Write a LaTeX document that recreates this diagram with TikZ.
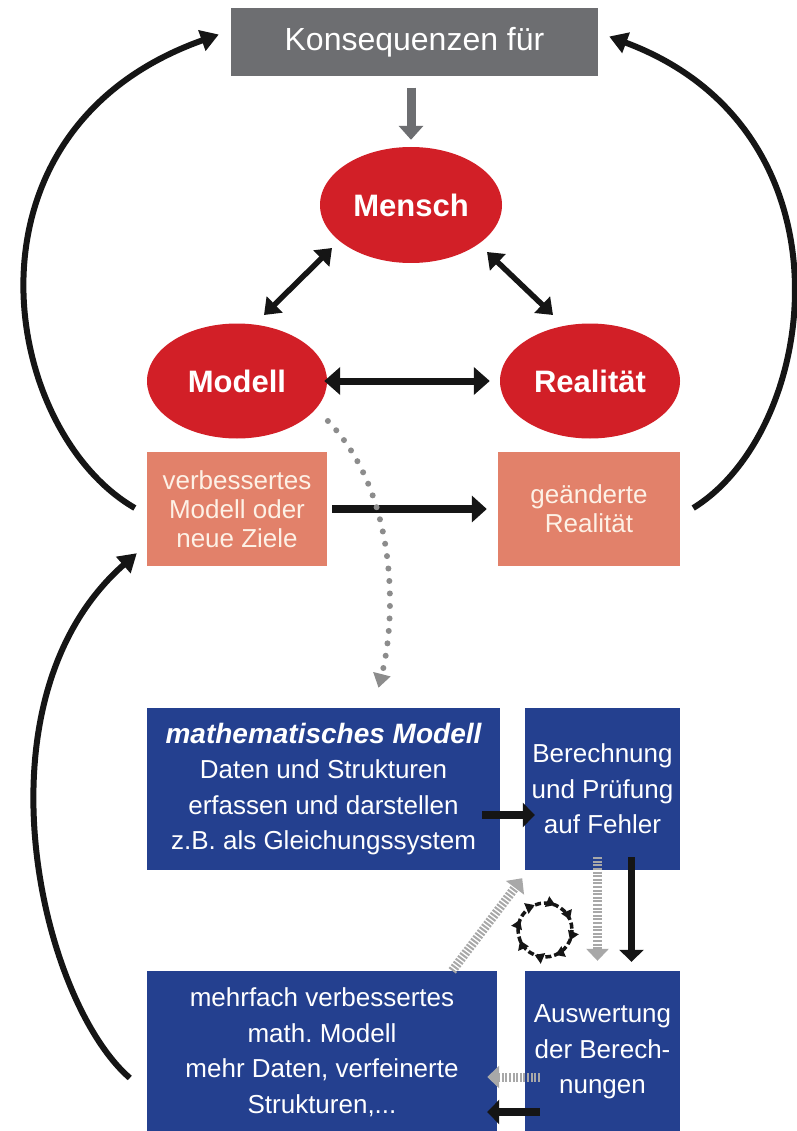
\documentclass[tikz,border=0pt]{standalone}
\usepackage{fontspec}
\setmainfont{Liberation Sans}
\usetikzlibrary{arrows.meta,shapes.geometric,calc,decorations.markings}
\definecolor{kgray}{HTML}{6D6E71}
\definecolor{kred}{HTML}{D21F27}
\definecolor{ksalmon}{HTML}{E2816A}
\definecolor{kblue}{HTML}{24408F}
\definecolor{khatch}{HTML}{A8A8A8}
\definecolor{kdot}{HTML}{8C8C8C}
\definecolor{kblack}{HTML}{151515}
\definecolor{kcream}{HTML}{FDF1E6}
\frenchspacing
\begin{document}
\begin{tikzpicture}[x=1pt,y=-1pt,
  graybox/.style={rectangle, fill=kgray, text=white, minimum width=367pt, minimum height=68pt, inner sep=0pt, font=\fontsize{32}{32}\selectfont},
  ell/.style={ellipse, fill=kred, text=white, minimum width=180pt, minimum height=115pt, inner sep=0pt, font=\fontsize{31}{31}\selectfont\bfseries},
  sbox/.style={rectangle, fill=ksalmon, text=kcream, minimum width=180pt, minimum height=114pt, inner sep=0pt, align=center, font=\fontsize{26}{29}\selectfont},
  bbox/.style={rectangle, fill=kblue, text=white, minimum height=162pt, inner sep=0pt, align=center, font=\fontsize{26}{35.5}\selectfont},
  garrow/.style={draw=kgray, line width=9pt, -{Triangle[length=14pt,width=24pt]}},
  dbl/.style={draw=kblack, line width=6pt, {Triangle[length=15pt,width=22pt]}-{Triangle[length=15pt,width=22pt]}},
  blk/.style={draw=kblack, line width=8pt, -{Triangle[length=15pt,width=26pt]}},
  sblk/.style={draw=kblack, line width=7.5pt, -{Triangle[length=12pt,width=24pt]}},
  arc/.style={draw=kblack, line width=6pt, -{Triangle[length=18pt,width=21pt]}},
  dots/.style={draw=kdot, line width=6pt, line cap=round, dash pattern=on 0pt off 12.5pt, -{Triangle[length=14pt,width=17pt]}},
  hatch/.style={draw=khatch, line width=9pt, dash pattern=on 2pt off 1.6pt, -{Triangle[length=12pt,width=22pt,fill=khatch]}},
  cyc/.style={draw=kblack, line width=3.5pt, dash pattern=on 6pt off 3pt,
    postaction={decorate, decoration={markings, mark=between positions 0.0625 and 1 step 0.125 with {\arrow{Triangle[length=9pt,width=11pt]}}}}}
]
\fill[white] (0,0) rectangle (796,1131);
\useasboundingbox (0,0) rectangle (796,1131);

% nodes
\node[graybox] (kons) at (414.5,42.5) {Konsequenzen für};
\node[ell, minimum width=182pt, minimum height=116pt] (mensch) at (411,205) {Mensch};
\node[ell] (modell) at (237,381) {Modell};
\node[ell] (real) at (590,381) {Realität};
\node[sbox] (lbox) at (237,509) {verbessertes\\Modell oder\\neue Ziele};
\node[sbox, minimum width=182pt] (rbox) at (589,509) {geänderte\\Realität};
\node[bbox, minimum width=353pt] (b1) at (323.5,789) {{\fontsize{28}{35.5}\selectfont\bfseries\itshape mathematisches Modell}\\Daten und Strukturen\\erfassen und darstellen\\z.B. als Gleichungssystem};
\node[bbox, minimum width=155pt] (b2) at (602.5,789) {Berechnung\\und Prüfung\\auf Fehler};
\node[bbox, minimum width=350pt] (b3) at (322,1052) {mehrfach verbessertes\\math. Modell\\mehr Daten, verfeinerte\\Strukturen,...};
\node[bbox, minimum width=155pt] (b4) at (602.5,1052) {Auswertung\\der Berech-\\nungen};

% top connectors
\draw[garrow, shorten <=11pt, shorten >=7pt] (kons.south -| mensch.north) -- (mensch.north);
\draw[dbl, line width=5.5pt] ($(mensch.center)+(-79,43)$) -- ($(modell.center)+(27,-66)$);
\draw[dbl, line width=5.5pt] ($(mensch.center)+(76,47)$) -- ($(real.center)+(-37,-66)$);
\draw[dbl, line width=7pt, {Triangle[length=16pt,width=27pt]}-{Triangle[length=16pt,width=27pt]}, shorten <=-3pt, shorten >=10pt] (modell.east) -- (real.west);
\draw[blk, shorten <=5pt, shorten >=11pt] (lbox.east) -- (rbox.west);

% big arcs
\draw[arc] ($(lbox.west)+(-12,-1)$) .. controls (0,430) and (-50,130) .. ($(kons.west)+(-12,-8)$);
\draw[arc] ($(rbox.east)+(13,-1)$) .. controls (820,430) and (860,130) .. ($(kons.east)+(11,-6)$);
\draw[arc] ($(b3.west)+(-17,26)$) .. controls (40,1000) and (-30,700) .. ($(lbox.south west)+(-10,-13)$);

% dotted curve
\draw[dots] ($(modell.-25)+(18,6)$) .. controls (395,490) and (398,610) .. ($(b1.north)+(55,-20)$);

% lower connectors
\draw[sblk] ($(b1.east)+(-18,26)$) -- ($(b2.west)+(10,26)$);
\draw[hatch] ($(b2.south)+(-5,-13)$) -- ($(b4.north)+(-5,-10)$);
\draw[sblk, line width=6.5pt] ($(b2.south)+(29,-13)$) -- ($(b4.north)+(29,-9)$);
\draw[hatch] ($(b3.north east)+(-45,0)$) -- ($(b1.south east)+(22,8)$);
\draw[hatch] ($(b4.west)+(15,25)$) -- ($(b3.east)+(-10,25)$);
\draw[sblk] ($(b4.west)+(15,60)$) -- ($(b3.east)+(-10,60)$);

% cycle symbol
\draw[cyc] (545,930) circle (27);
\end{tikzpicture}
\end{document}
